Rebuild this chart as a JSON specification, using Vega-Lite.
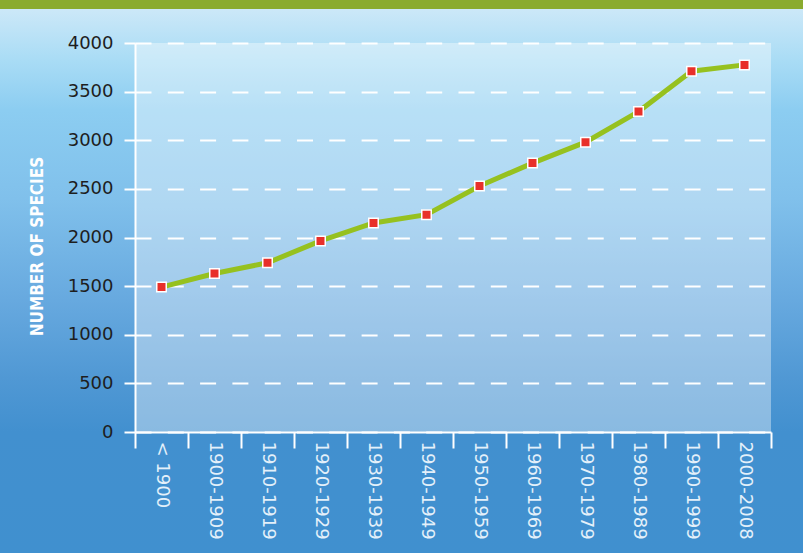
{
  "$schema": "https://vega.github.io/schema/vega-lite/v6.json",
  "width": 803,
  "height": 544,
  "autosize": "none",
  "padding": {"top": 9, "left": 0, "right": 0, "bottom": 0},
  "background": "#8aab2e",
  "view": {
    "stroke": null,
    "fill": {
      "gradient": "linear", "x1": 0, "y1": 0, "x2": 0, "y2": 1,
      "stops": [
        {"offset": 0, "color": "#cce8f8"},
        {"offset": 0.094, "color": "#a9dcf5"},
        {"offset": 0.186, "color": "#8ccdf1"},
        {"offset": 0.35, "color": "#80c0eb"},
        {"offset": 0.535, "color": "#67a9df"},
        {"offset": 0.68, "color": "#5098d4"},
        {"offset": 0.777, "color": "#4290cf"},
        {"offset": 1, "color": "#4090cf"}
      ]
    }
  },
  "data": {
    "values": [
      {"period": "< 1900", "species": 1490},
      {"period": "1900-1909", "species": 1630},
      {"period": "1910-1919", "species": 1740},
      {"period": "1920-1929", "species": 1965},
      {"period": "1930-1939", "species": 2150},
      {"period": "1940-1949", "species": 2235},
      {"period": "1950-1959", "species": 2530},
      {"period": "1960-1969", "species": 2765},
      {"period": "1970-1979", "species": 2980},
      {"period": "1980-1989", "species": 3295},
      {"period": "1990-1999", "species": 3710},
      {"period": "2000-2008", "species": 3775}
    ]
  },
  "encoding": {
    "x": {
      "field": "period", "type": "nominal", "sort": null,
      "scale": {"range": [135, 771], "paddingInner": 0, "paddingOuter": 0},
      "axis": {
        "title": null,
        "offset": -121,
        "grid": false,
        "zindex": 1,
        "domainColor": "white", "domainWidth": 2,
        "tickColor": "white", "tickWidth": 2, "tickSize": 16, "tickBand": "extent",
        "labelAngle": 90, "labelFont": "DejaVu Sans", "labelFontSize": 18,
        "labelColor": "#e4f0fa", "labelPadding": -7, "labelOverlap": false
      }
    },
    "y": {
      "field": "species", "type": "quantitative",
      "scale": {"domain": [0, 4000], "range": [423, 34]},
      "axis": {
        "title": "NUMBER OF SPECIES",
        "offset": -135,
        "zindex": 0,
        "format": "d",
        "values": [0, 500, 1000, 1500, 2000, 2500, 3000, 3500, 4000],
        "domainColor": "white", "domainWidth": 2,
        "tickColor": "white", "tickWidth": 2, "tickSize": 11,
        "grid": true, "gridColor": "white", "gridWidth": 2, "gridDash": [16, 16.3], "gridOpacity": 1,
        "labelFont": "DejaVu Sans", "labelFontSize": 18, "labelColor": "#1e1e1e", "labelPadding": 11,
        "titleFont": "DejaVu Sans Condensed", "titleFontSize": 17, "titleFontWeight": "bold",
        "titleColor": "white", "titlePadding": 21, "titleY": 237
      }
    }
  },
  "layer": [
    {
      "mark": {"type": "bar", "fill": "white", "fillOpacity": 0.38, "stroke": null},
      "encoding": {
        "y": {"datum": 4000, "type": "quantitative"},
        "y2": {"datum": 0}
      }
    },
    {
      "mark": {"type": "line", "color": "#96c11f", "strokeWidth": 5}
    },
    {
      "mark": {"type": "point", "shape": "square", "filled": true, "size": 90, "fill": "#e8302a", "stroke": "white", "strokeWidth": 1.5, "opacity": 1}
    }
  ]
}
